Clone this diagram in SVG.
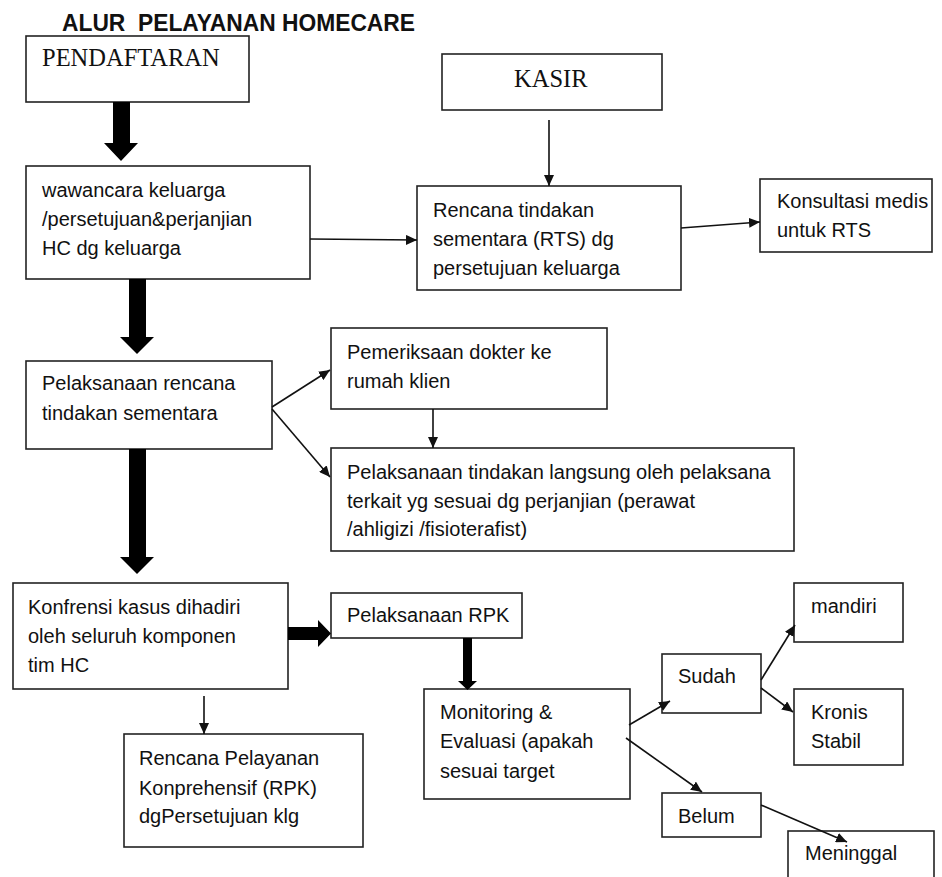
<svg xmlns="http://www.w3.org/2000/svg" width="942" height="877" viewBox="0 0 942 877">
<style>
  .box { fill: #fff; stroke: #222; stroke-width: 1.6; }
  .t { font-family: "Liberation Sans", Arial, sans-serif; font-size: 20px; fill: #111; }
  .serif { font-family: "Liberation Serif", "Times New Roman", serif; font-size: 24.5px; fill: #111; }
  .title { font-family: "Liberation Sans", Arial, sans-serif; font-size: 23px; font-weight: bold; fill: #111; white-space: pre; }
  .thin { stroke: #111; stroke-width: 1.6; fill: none; marker-end: url(#ah); }
  .thick { fill: #000; stroke: none; }
</style>
<defs>
  <marker id="ah" markerUnits="userSpaceOnUse" markerWidth="12" markerHeight="10" refX="11" refY="5" orient="auto">
    <path d="M0,0 L11,5 L0,10 Z" fill="#111"/>
  </marker>
</defs>
<rect width="942" height="877" fill="#fff"/>

<text class="title" x="62" y="30.5" xml:space="preserve" textLength="353" lengthAdjust="spacingAndGlyphs">ALUR  PELAYANAN HOMECARE</text>

<g id="pendaftaran">
  <rect class="box" x="26" y="36" width="223" height="66"/>
  <text class="serif" x="42" y="66">PENDAFTARAN</text>
</g>
<g id="kasir">
  <rect class="box" x="442" y="54" width="220" height="56"/>
  <text class="serif" x="514" y="87">KASIR</text>
</g>
<g id="wawancara">
  <rect class="box" x="26" y="166" width="284" height="113"/>
  <text class="t" x="42" y="197">wawancara keluarga</text>
  <text class="t" x="42" y="226">/persetujuan&amp;perjanjian</text>
  <text class="t" x="42" y="255">HC dg keluarga</text>
</g>
<g id="rencana-rts">
  <rect class="box" x="417" y="186" width="264" height="104"/>
  <text class="t" x="433" y="217">Rencana tindakan</text>
  <text class="t" x="433" y="246">sementara (RTS) dg</text>
  <text class="t" x="433" y="275">persetujuan keluarga</text>
</g>
<g id="konsultasi">
  <rect class="box" x="760" y="179" width="172" height="73"/>
  <text class="t" x="777" y="208">Konsultasi medis</text>
  <text class="t" x="777" y="237">untuk RTS</text>
</g>
<g id="pelaksanaan-rts">
  <rect class="box" x="26" y="361" width="246" height="88"/>
  <text class="t" x="42" y="390">Pelaksanaan rencana</text>
  <text class="t" x="42" y="420">tindakan sementara</text>
</g>
<g id="pemeriksaan">
  <rect class="box" x="331" y="328" width="276" height="81"/>
  <text class="t" x="347" y="359">Pemeriksaan dokter ke</text>
  <text class="t" x="347" y="388">rumah klien</text>
</g>
<g id="tindakan-langsung">
  <rect class="box" x="331" y="448" width="463" height="103"/>
  <text class="t" x="347" y="479">Pelaksanaan tindakan langsung oleh pelaksana</text>
  <text class="t" x="347" y="508">terkait yg sesuai dg perjanjian (perawat</text>
  <text class="t" x="347" y="536">/ahligizi /fisioterafist)</text>
</g>
<g id="konfrensi">
  <rect class="box" x="13" y="583" width="275" height="106"/>
  <text class="t" x="28" y="614">Konfrensi kasus dihadiri</text>
  <text class="t" x="28" y="643">oleh seluruh komponen</text>
  <text class="t" x="28" y="672">tim HC</text>
</g>
<g id="pelaksanaan-rpk">
  <rect class="box" x="331" y="593" width="191" height="45"/>
  <text class="t" x="347" y="622">Pelaksanaan RPK</text>
</g>
<g id="rencana-pelayanan">
  <rect class="box" x="124" y="734" width="239" height="113"/>
  <text class="t" x="139" y="765">Rencana Pelayanan</text>
  <text class="t" x="139" y="795">Konprehensif (RPK)</text>
  <text class="t" x="139" y="823">dgPersetujuan klg</text>
</g>
<g id="monitoring">
  <rect class="box" x="424" y="689" width="206" height="110"/>
  <text class="t" x="440" y="719">Monitoring &amp;</text>
  <text class="t" x="440" y="748">Evaluasi (apakah</text>
  <text class="t" x="440" y="778">sesuai target</text>
</g>
<g id="sudah">
  <rect class="box" x="662" y="654" width="99" height="59"/>
  <text class="t" x="678" y="683">Sudah</text>
</g>
<g id="mandiri">
  <rect class="box" x="794" y="583" width="109" height="59"/>
  <text class="t" x="811" y="613">mandiri</text>
</g>
<g id="kronis">
  <rect class="box" x="794" y="689" width="109" height="76"/>
  <text class="t" x="811" y="719">Kronis</text>
  <text class="t" x="811" y="748">Stabil</text>
</g>
<g id="belum">
  <rect class="box" x="662" y="793" width="99" height="44"/>
  <text class="t" x="678" y="823">Belum</text>
</g>
<g id="meninggal">
  <rect class="box" x="788" y="831" width="146" height="60"/>
  <text class="t" x="805" y="860">Meninggal</text>
</g>

<g id="connectors">
  <polygon class="thick" points="113,102 130,102 130,143 138,143 121,161 104,143 113,143"/>
  <polygon class="thick" points="129,279 146,279 146,337 154,337 137,354 120,337 129,337"/>
  <polygon class="thick" points="129,449 146,449 146,557 154,557 137,574 120,557 129,557"/>
  <polygon class="thick" points="288,627 318,627 318,620 331,633.5 318,647 318,640 288,640"/>
  <polygon class="thick" points="463,638 472,638 472,681 477,681 467.5,690 458,681 463,681"/>
  <line class="thin" x1="549" y1="120" x2="549" y2="186"/>
  <line class="thin" x1="310" y1="239" x2="417" y2="240"/>
  <line class="thin" x1="681" y1="228" x2="760" y2="222"/>
  <line class="thin" x1="272" y1="407" x2="330" y2="370"/>
  <line class="thin" x1="272" y1="409" x2="330" y2="477"/>
  <line class="thin" x1="433" y1="409" x2="433" y2="448"/>
  <line class="thin" x1="204" y1="696" x2="204" y2="734"/>
  <line class="thin" x1="629" y1="725" x2="670" y2="701"/>
  <line class="thin" x1="626" y1="738" x2="702" y2="792"/>
  <line class="thin" x1="761" y1="680" x2="795" y2="625"/>
  <line class="thin" x1="761" y1="688" x2="793" y2="712"/>
  <line class="thin" x1="761" y1="805" x2="847" y2="842"/>
</g>
</svg>
